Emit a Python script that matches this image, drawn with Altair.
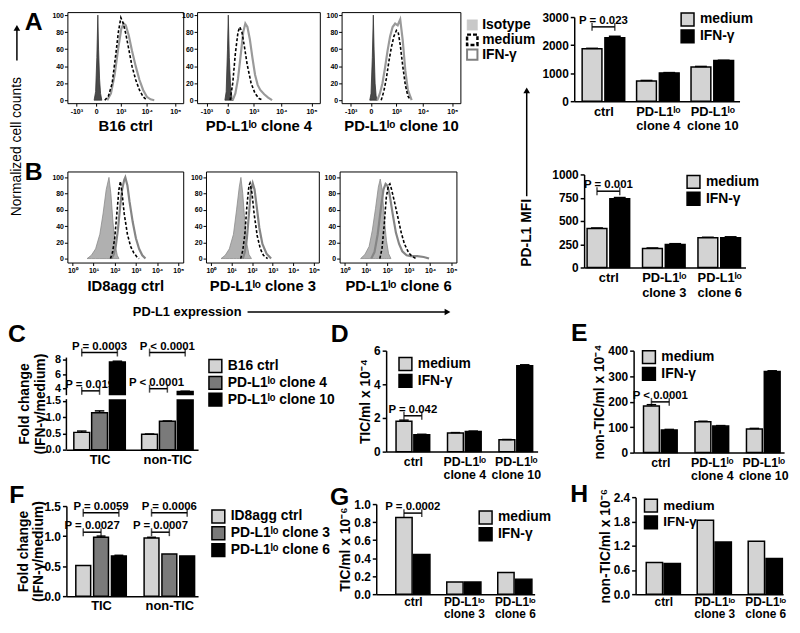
import altair as alt
import pandas as pd

FONT = "Liberation Sans"
OX, OY = 8, 8          # page margin
W, H = 792, 617        # drawing area

# ======================= DATA =======================
# ---- A: flow histograms (x in display units, ticks -10^3, 0, 10^3, 10^4, 10^5)
A_TICKS = [-1.0, -0.2, 0.8, 1.85, 3.0]
A_TICK_LABELS = ["-10³", "0", "10³", "10⁴", "10⁵"]
A_NAMES = ["B16 ctrl", "PD-L1ˡᵒ clone 4", "PD-L1ˡᵒ clone 10"]

A1_ISO_X = [-0.28, -0.22, -0.17, -0.13, -0.10, -0.06, -0.02, 0.03]
A1_ISO_Y = [0, 10, 50, 100, 60, 25, 8, 0]
A1_MED_X = [0.15, 0.3, 0.45, 0.6, 0.7, 0.8, 0.9, 1.0, 1.12, 1.25, 1.4, 1.55, 1.7, 1.85]
A1_MED_Y = [0, 5, 20, 55, 80, 97, 90, 78, 60, 40, 24, 12, 4, 0]
A1_IFN_X = [0.25, 0.4, 0.55, 0.7, 0.82, 0.92, 1.0, 1.12, 1.25, 1.4, 1.55, 1.7, 1.85, 2.0, 2.15]
A1_IFN_Y = [0, 8, 30, 62, 84, 90, 88, 76, 58, 40, 24, 12, 4, 1, 0]

A2_ISO_X = [-0.3, -0.25, -0.2, -0.17, -0.13, -0.08, -0.03, 0.02]
A2_ISO_Y = [0, 10, 60, 100, 50, 15, 3, 0]
A2_MED_X = [-0.1, 0.0, 0.1, 0.2, 0.27, 0.35, 0.45, 0.55, 0.7, 0.85, 1.0, 1.15]
A2_MED_Y = [0, 20, 55, 80, 86, 80, 62, 42, 20, 8, 2, 0]
A2_IFN_X = [0.0, 0.1, 0.2, 0.3, 0.4, 0.48, 0.56, 0.65, 0.75, 0.85, 0.95, 1.05, 1.2, 1.35, 1.5]
A2_IFN_Y = [0, 8, 25, 52, 80, 90, 86, 72, 50, 30, 18, 12, 7, 3, 0]

A3_ISO_X = [-0.25, -0.2, -0.15, -0.11, -0.08, -0.04, 0.0, 0.05]
A3_ISO_Y = [0, 8, 50, 100, 60, 20, 5, 0]
A3_MED_X = [0.2, 0.3, 0.4, 0.5, 0.6, 0.7, 0.8, 0.87, 0.95, 1.05, 1.15, 1.25, 1.35]
A3_MED_Y = [0, 10, 25, 45, 62, 75, 82, 80, 65, 40, 18, 5, 0]
A3_IFN_X = [0.05, 0.15, 0.25, 0.35, 0.45, 0.55, 0.65, 0.75, 0.85, 0.95, 1.05, 1.15, 1.25, 1.4]
A3_IFN_Y = [0, 8, 20, 38, 58, 75, 86, 90, 88, 95, 70, 35, 12, 0]

# ---- B: flow histograms (x in decades, 10^0 .. 10^5)
B_TICKS = [0, 1, 2, 3, 4, 5]
B_TICK_LABELS = ["10⁰", "10¹", "10²", "10³", "10⁴", "10⁵"]
B_NAMES = ["ID8agg ctrl", "PD-L1ˡᵒ clone 3", "PD-L1ˡᵒ clone 6"]

B1_ISO_X = [0.7, 0.9, 1.1, 1.3, 1.45, 1.6, 1.73, 1.82, 1.92, 2.02, 2.12, 2.2]
B1_ISO_Y = [0, 4, 12, 30, 55, 85, 100, 80, 45, 18, 4, 0]
B1_MED_X = [1.8, 1.9, 2.0, 2.1, 2.2, 2.27, 2.35, 2.45, 2.6, 2.75, 2.9, 3.05, 3.15]
B1_MED_Y = [0, 8, 25, 55, 85, 95, 80, 55, 30, 15, 7, 2, 0]
B1_IFN_X = [1.85, 1.95, 2.05, 2.15, 2.25, 2.35, 2.45, 2.5, 2.6, 2.7, 2.85, 3.0, 3.15, 3.3, 3.45]
B1_IFN_Y = [0, 5, 15, 35, 62, 85, 97, 100, 90, 70, 45, 25, 12, 4, 0]

B2_ISO_X = [0.5, 0.7, 0.9, 1.1, 1.25, 1.38, 1.46, 1.55, 1.65, 1.75, 1.85, 1.97]
B2_ISO_Y = [0, 4, 12, 30, 60, 88, 100, 80, 45, 18, 5, 0]
B2_MED_X = [1.45, 1.55, 1.65, 1.75, 1.85, 1.9, 2.0, 2.1, 2.25, 2.4, 2.55, 2.75]
B2_MED_Y = [0, 10, 30, 65, 90, 93, 80, 55, 28, 12, 4, 0]
B2_IFN_X = [1.55, 1.65, 1.75, 1.85, 1.95, 2.03, 2.12, 2.22, 2.35, 2.5, 2.7, 2.92]
B2_IFN_Y = [0, 8, 25, 55, 85, 93, 85, 65, 38, 18, 6, 0]

B3_ISO_X = [0.75, 0.95, 1.15, 1.3, 1.45, 1.58, 1.67, 1.76, 1.86, 1.96, 2.06, 2.17]
B3_ISO_Y = [0, 5, 15, 35, 62, 88, 98, 85, 50, 22, 6, 0]
B3_MED_X = [1.65, 1.75, 1.85, 1.95, 2.05, 2.12, 2.2, 2.35, 2.5, 2.65, 2.8, 3.0, 3.15, 3.33]
B3_MED_Y = [0, 12, 40, 75, 90, 92, 85, 68, 50, 32, 18, 7, 3, 0]
B3_IFN_X = [1.25, 1.4, 1.55, 1.7, 1.82, 1.92, 2.0, 2.1, 2.25, 2.4, 2.55, 2.7, 2.9, 3.1, 3.4, 3.7, 3.95]
B3_IFN_Y = [0, 8, 30, 62, 85, 92, 90, 80, 55, 32, 18, 9, 4, 3, 3, 2, 0]

HIST_LEGEND = ["Isotype", "medium", "IFN-γ"]

# ---- bar panels
TREAT = ["medium", "IFN-γ"]
B16_GROUPS = ["ctrl", "PD-L1ˡᵒ|clone 4", "PD-L1ˡᵒ|clone 10"]
ID8_GROUPS = ["ctrl", "PD-L1ˡᵒ|clone 3", "PD-L1ˡᵒ|clone 6"]
CELL_GROUPS = ["TIC", "non-TIC"]
C_SERIES = ["B16 ctrl", "PD-L1ˡᵒ clone 4", "PD-L1ˡᵒ clone 10"]
F_SERIES = ["ID8agg ctrl", "PD-L1ˡᵒ clone 3", "PD-L1ˡᵒ clone 6"]

AMFI_MEDIUM = [1870, 720, 1220]
AMFI_IFN = [2260, 1010, 1450]
AMFI_MEDIUM_ERR = [15, 20, 20]
AMFI_IFN_ERR = [55, 10, 10]

BMFI_MEDIUM = [420, 205, 320]
BMFI_IFN = [740, 248, 320]
BMFI_MEDIUM_ERR = [5, 5, 5]
BMFI_IFN_ERR = [12, 8, 10]

C_B16 = [0.53, 0.47]
C_CL4 = [1.13, 0.87]
C_CL10 = [7.7, 3.6]
C_B16_ERR = [0.04, 0.01]
C_CL4_ERR = [0.06, 0.01]
C_CL10_ERR = [0.1, 0.05]

D_MEDIUM = [1.8, 1.1, 0.7]
D_IFN = [1.0, 1.2, 5.1]
D_MEDIUM_ERR = [0.07, 0.03, 0.02]
D_IFN_ERR = [0.03, 0.02, 0.06]

E_MEDIUM = [183, 121, 93]
E_IFN = [89, 104, 318]
E_MEDIUM_ERR = [5, 2, 2]
E_IFN_ERR = [2, 2, 3]

F_ID8 = [0.51, 0.97]
F_CL3 = [0.98, 0.70]
F_CL6 = [0.67, 0.67]
F_ID8_ERR = [0.0, 0.01]
F_CL3_ERR = [0.02, 0.0]
F_CL6_ERR = [0.01, 0.0]

G_MEDIUM = [0.85, 0.135, 0.24]
G_IFN = [0.44, 0.135, 0.167]
G_ERR = [0.0, 0.0, 0.0]

H_MEDIUM = [0.785, 1.83, 1.31]
H_IFN = [0.76, 1.29, 0.885]
H_ERR = [0.0, 0.0, 0.0]

LETTERS = ["A", "B", "C", "D", "E", "F", "G", "H"]


# ======================= HELPERS =======================
def off_left(xpx):
    return -(xpx - OX)


def off_bottom(ypx):
    return (ypx - OY) - H


def off_top(ypx):
    return -(ypx - OY)


def off_right(xpx):
    return (xpx - OX) - W


def one(text):
    return pd.DataFrame({"t": [text]})


def hist_children(lay, ticks, tick_labels, name, iso, med, ifn, iso_fill, iso_stroke, ifn_color):
    xa, xb, yt, yb, xdom, ydom = lay
    xs = alt.Scale(domain=xdom, range=[xa - OX, xb - OX], nice=False, zero=False)
    ys = alt.Scale(domain=ydom, range=[yb - OY, yt - OY], nice=False, zero=False)
    vals = ",".join(repr(float(t)) for t in ticks)
    labs = ",".join("'" + l + "'" for l in tick_labels)
    lexpr = f"[{labs}][indexof([{vals}], datum.value)]"
    d_iso = pd.DataFrame({"x": iso[0], "y": iso[1], "b": [0] * len(iso[0])})
    d_med = pd.DataFrame({"x": med[0], "y": med[1]})
    d_ifn = pd.DataFrame({"x": ifn[0], "y": ifn[1]})
    c_iso = alt.Chart(d_iso).mark_area(fill=iso_fill, stroke=iso_stroke, strokeWidth=0.8).encode(
        x=alt.X("x:Q", scale=xs, axis=alt.Axis(
            orient="bottom", offset=off_bottom(yb), values=[float(t) for t in ticks], labelExpr=lexpr,
            labelFontSize=7, tickSize=3, labelPadding=1, domainWidth=1, tickWidth=1,
            title=name, titleFontSize=15, titlePadding=5)),
        y=alt.Y("y:Q", scale=ys, axis=alt.Axis(
            orient="left", offset=off_left(xa), values=[0, 20, 40, 60, 80, 100],
            labelFontSize=7, tickSize=3, labelPadding=1, domainWidth=1, tickWidth=1, title=None)),
        y2=alt.Y2("b"))
    c_ifn = alt.Chart(d_ifn).mark_line(color=ifn_color, strokeWidth=2.2).encode(
        x=alt.X("x:Q", scale=xs, axis=None), y=alt.Y("y:Q", scale=ys, axis=None))
    c_med = alt.Chart(d_med).mark_line(color="black", strokeWidth=1.6, strokeDash=[3, 2]).encode(
        x=alt.X("x:Q", scale=xs, axis=alt.Axis(orient="top", offset=off_top(yt), labels=False,
                                                ticks=False, title=None, domainWidth=1)),
        y=alt.Y("y:Q", scale=ys, axis=alt.Axis(orient="right", offset=off_right(xb), labels=False,
                                                ticks=False, title=None, domainWidth=1)))
    return [c_iso, c_ifn, c_med]


def bar_children(sp):
    gap, c0 = sp["gap"], sp["c0"]
    dom = [(sp["xa"] - c0) / gap, (sp["xb"] - c0) / gap]
    xs = alt.Scale(domain=dom, range=[sp["xa"] - OX, sp["xb"] - OX], nice=False, zero=False)
    ys = alt.Scale(domain=sp["ydom"], range=[v - OY for v in sp["yrng"]], nice=False, zero=False)
    hw = sp["bw"] / 2 / gap
    rows = []
    for si, s in enumerate(sp["series"]):
        for gi in range(len(sp["groups"])):
            c = gi + sp["offs"][si] / gap
            v = sp["values"][si][gi]
            e = sp["errs"][si][gi]
            rows.append(dict(series=s, xc=c, x0=c - hw, x1=c + hw, cl=c - hw * 0.6,
                             cr=c + hw * 0.6, v=v, top=v + e, b=0))
    df = pd.DataFrame(rows)
    glabs = ",".join("'" + g + "'" for g in sp["groups"])
    xaxis = alt.Axis(orient="bottom", offset=off_bottom(sp["yrng"][0]),
                     values=list(range(len(sp["groups"]))),
                     labelExpr=f"split([{glabs}][round(datum.value)], '|')",
                     ticks=False, labelFontSize=sp.get("xfs", 13), labelPadding=sp.get("xpad", 4),
                     labelLineHeight=sp.get("lh", 14),
                     domainWidth=1.5, title=None, labelBound=False, labelOverlap=False)
    yk = dict(orient="left", offset=off_left(sp["xa"]), values=sp["yticks"], tickSize=4,
              tickWidth=1.5, domainWidth=1.5, labelFontSize=sp.get("yfs", 12), labelPadding=2,
              title=sp["ytitle"], titleFontSize=14, titlePadding=sp.get("tpad", 1),
              labelOverlap=False, domain=sp.get("ydomain_line", True))
    if "ylabels" in sp:
        vals = ",".join(repr(float(t)) for t in sp["yticks"])
        labs = ",".join("'" + l + "'" for l in sp["ylabels"])
        yk["labelExpr"] = f"[{labs}][indexof([{vals}], datum.value)]"
    else:
        yk["format"] = sp["yfmt"]
    lx, ly = sp["legend"]
    leg = alt.Legend(orient="none", legendX=lx - OX, legendY=ly - OY, title=None,
                     symbolType="square", symbolSize=169, symbolStrokeColor="black",
                     symbolStrokeWidth=1.5, symbolOpacity=1, labelFontSize=sp.get("lfs", 14),
                     labelFont=FONT, labelFontWeight="bold", labelColor="black",
                     rowPadding=sp.get("rowpad", -4), padding=0, labelOffset=5, labelLimit=400)
    out = []
    bars = alt.Chart(df).mark_bar(stroke="black", strokeWidth=1.5, opacity=1).encode(
        x=alt.X("x0:Q", scale=xs, axis=xaxis),
        x2=alt.X2("x1"),
        y=alt.Y("v:Q", scale=ys, axis=alt.Axis(**yk)),
        y2=alt.Y2("b"),
        color=alt.Color("series:N", scale=alt.Scale(domain=sp["series"], range=sp["colors"]),
                        legend=leg))
    out.append(bars)
    out.append(alt.Chart(df).mark_rule(color="black", strokeWidth=1.5).encode(
        x=alt.X("xc:Q", scale=xs, axis=None), y=alt.Y("v:Q", scale=ys, axis=None), y2=alt.Y2("top")))
    out.append(alt.Chart(df[df["top"] > df["v"]]).mark_rule(color="black", strokeWidth=1.5).encode(
        x=alt.X("cl:Q", scale=xs, axis=None), x2=alt.X2("cr"), y=alt.Y("top:Q", scale=ys, axis=None)))
    if "brk" in sp:
        lo, hi = sp["brk"]
        bdf = pd.DataFrame({"x0": [dom[0] + 0.02], "x1": [dom[1]], "y0": [lo], "y1": [hi]})
        out.append(alt.Chart(bdf).mark_rect(fill="white").encode(
            x=alt.X("x0:Q", scale=xs, axis=None), x2=alt.X2("x1"),
            y=alt.Y("y0:Q", scale=ys, axis=None), y2=alt.Y2("y1")))
        sdf = pd.DataFrame({"x": [dom[0], dom[0]], "y0": [sp["ydom"][0], hi],
                            "y1": [lo, sp["ydom"][-1]]})
        out.append(alt.Chart(sdf).mark_rule(color="black", strokeWidth=1.5).encode(
            x=alt.X("x:Q", scale=xs, axis=None), y=alt.Y("y0:Q", scale=ys, axis=None), y2=alt.Y2("y1")))
    if sp["pvals"]:
        prow, erow = [], []
        for pv in sp["pvals"]:
            g, s1, s2, lvl, txt_ = pv[:5]
            shift = pv[5] if len(pv) > 5 else 0
            a = g + sp["offs"][s1] / gap
            b = g + sp["offs"][s2] / gap
            prow.append(dict(a=a, b=b, m=(a + b) / 2 + shift / gap, lvl=lvl, txt=txt_))
            erow += [dict(x=a, lvl=lvl), dict(x=b, lvl=lvl)]
        pdf = pd.DataFrame(prow)
        edf = pd.DataFrame(erow)
        out.append(alt.Chart(pdf).mark_rule(color="black", strokeWidth=1.5).encode(
            x=alt.X("a:Q", scale=xs, axis=None), x2=alt.X2("b"), y=alt.Y("lvl:Q", scale=ys, axis=None)))
        out.append(alt.Chart(edf).mark_tick(color="black", thickness=1.5, size=8, orient="vertical").encode(
            x=alt.X("x:Q", scale=xs, axis=None), y=alt.Y("lvl:Q", scale=ys, axis=None)))
        out.append(alt.Chart(pdf).mark_text(font=FONT, fontWeight="bold", fontSize=11.5, baseline="bottom",
                                            dy=-1, color="black").encode(
            x=alt.X("m:Q", scale=xs, axis=None), y=alt.Y("lvl:Q", scale=ys, axis=None), text="txt:N"))
    return out


def txt(text, x, y, size=13, weight="bold", angle=0, align="center", baseline="middle"):
    return alt.Chart(one(text)).mark_text(font=FONT, fontSize=size, fontWeight=weight, angle=angle,
                                          align=align, baseline=baseline, color="black").encode(
        text="t:N", x=alt.value(x - OX), y=alt.value(y - OY))


def rule(x1, y1, x2, y2, w=1.5):
    return alt.Chart(one("r")).mark_rule(color="black", strokeWidth=w).encode(
        x=alt.value(x1 - OX), x2=alt.value(x2 - OX), y=alt.value(y1 - OY), y2=alt.value(y2 - OY))


def head(x, y, shape):
    return alt.Chart(one("h")).mark_point(shape=shape, filled=True, size=45, color="black",
                                          opacity=1).encode(x=alt.value(x - OX), y=alt.value(y - OY))


def square(x, y, fill, stroke, dash=None, sw=1.5):
    kw = dict(shape="square", filled=False, size=110, fill=fill, stroke=stroke, strokeWidth=sw, opacity=1)
    if dash:
        kw["strokeDash"] = dash
    return alt.Chart(one("s")).mark_point(**kw).encode(x=alt.value(x - OX), y=alt.value(y - OY))


# ======================= BUILD =======================
children = []

A_Y = [-3.5, 103.5]
A_X = [-1.36, 3.32]
B_Y = [-4.9, 107.3]
B_X = [-0.23, 5.23]
A_LAY = [(68, 185, 9, 101, A_X, A_Y), (199, 323, 9, 101, A_X, A_Y), (345, 465, 9, 101, A_X, A_Y)]
B_LAY = [(68, 185, 170, 262, B_X, B_Y), (208, 322, 170, 262, B_X, B_Y), (343, 461, 170, 262, B_X, B_Y)]
A_CURVES = [((A1_ISO_X, A1_ISO_Y), (A1_MED_X, A1_MED_Y), (A1_IFN_X, A1_IFN_Y)),
            ((A2_ISO_X, A2_ISO_Y), (A2_MED_X, A2_MED_Y), (A2_IFN_X, A2_IFN_Y)),
            ((A3_ISO_X, A3_ISO_Y), (A3_MED_X, A3_MED_Y), (A3_IFN_X, A3_IFN_Y))]
B_CURVES = [((B1_ISO_X, B1_ISO_Y), (B1_MED_X, B1_MED_Y), (B1_IFN_X, B1_IFN_Y)),
            ((B2_ISO_X, B2_ISO_Y), (B2_MED_X, B2_MED_Y), (B2_IFN_X, B2_IFN_Y)),
            ((B3_ISO_X, B3_ISO_Y), (B3_MED_X, B3_MED_Y), (B3_IFN_X, B3_IFN_Y))]
for i in range(3):
    iso, med, ifn = A_CURVES[i]
    children += hist_children(A_LAY[i], A_TICKS, A_TICK_LABELS, A_NAMES[i], iso, med, ifn,
                              "#4a4a4a", "#333333", "#9a9a9a")
for i in range(3):
    iso, med, ifn = B_CURVES[i]
    children += hist_children(B_LAY[i], B_TICKS, B_TICK_LABELS, B_NAMES[i], iso, med, ifn,
                              "#b0b0b0", "#8a8a8a", "#858585")

GRAY2 = ["#d3d3d3", "#000000"]
GRAY3 = ["#d3d3d3", "#7a7a7a", "#000000"]

specs = [
    dict(groups=B16_GROUPS, series=TREAT, colors=GRAY2, values=[AMFI_MEDIUM, AMFI_IFN],
         errs=[AMFI_MEDIUM_ERR, AMFI_IFN_ERR], xa=580, xb=747, c0=609.5, gap=55, offs=[-11.5, 11.5],
         bw=20, ydom=[0, 3000], yrng=[99, 14], yticks=[0, 1000, 2000, 3000], yfmt="d", ytitle=None,
         legend=(687, 9), lh=15, xpad=4, pvals=[(0, 0, 1, 2650, "P = 0.023")]),
    dict(groups=ID8_GROUPS, series=TREAT, colors=GRAY2, values=[BMFI_MEDIUM, BMFI_IFN],
         errs=[BMFI_MEDIUM_ERR, BMFI_IFN_ERR], xa=590, xb=753, c0=614.5, gap=56, offs=[-11.5, 11.5],
         bw=20, ydom=[0, 1000], yrng=[267, 173], yticks=[0, 250, 500, 750, 1000], yfmt="d", ytitle=None,
         legend=(693, 173), lh=15, xpad=4, pvals=[(0, 0, 1, 820, "P = 0.001")]),
    dict(groups=CELL_GROUPS, series=C_SERIES, colors=GRAY3, values=[C_B16, C_CL4, C_CL10],
         errs=[C_B16_ERR, C_CL4_ERR, C_CL10_ERR], xa=67, xb=200, c0=100.5, gap=68.5, offs=[-18, 0, 18],
         bw=16, ydom=[0, 1.55, 3.1, 8.3], yrng=[451, 400, 396, 358], yticks=[0, 0.5, 1.0, 1.5, 4, 6, 8],
         ylabels=["0.0", "0.5", "1.0", "1.5", "4", "6", "8"], ytitle=["Fold change", "(IFN-γ/medium)"],
         ydomain_line=False, brk=(1.55, 3.1), tpad=-2, yfs=11,
         legend=(210, 359), rowpad=-3,
         pvals=[(0, 0, 2, 9.0, "P = 0.0003"), (0, 0, 1, 3.7, "P = 0.019", -1),
                (1, 0, 2, 9.0, "P < 0.0001"), (1, 0, 1, 4.0, "P < 0.0001", -2)]),
    dict(groups=B16_GROUPS, series=TREAT, colors=GRAY2, values=[D_MEDIUM, D_IFN],
         errs=[D_MEDIUM_ERR, D_IFN_ERR], xa=390, xb=543, c0=417, gap=52, offs=[-9, 9],
         bw=16, ydom=[0, 6], yrng=[453, 351], yticks=[0, 2, 4, 6], yfmt="d", ytitle="TIC/ml x 10⁻⁴",
         legend=(402, 357), lh=13, xfs=12.5, xpad=4, tpad=1, pvals=[(0, 0, 1, 2.13, "P = 0.042")]),
    dict(groups=B16_GROUPS, series=TREAT, colors=GRAY2, values=[E_MEDIUM, E_IFN],
         errs=[E_MEDIUM_ERR, E_IFN_ERR], xa=640, xb=792, c0=667, gap=52, offs=[-9, 9],
         bw=16, ydom=[0, 400], yrng=[454, 351], yticks=[0, 100, 200, 300, 400], yfmt="d",
         ytitle="non-TIC/ml x 10⁻⁴", legend=(648, 350), lh=13, xfs=12.5, xpad=4, tpad=1,
         pvals=[(0, 0, 1, 199, "P < 0.0001")]),
    dict(groups=CELL_GROUPS, series=F_SERIES, colors=GRAY3, values=[F_ID8, F_CL3, F_CL6],
         errs=[F_ID8_ERR, F_CL3_ERR, F_CL6_ERR], xa=67, xb=200, c0=102, gap=69, offs=[-18, 0, 18],
         bw=15, ydom=[0, 1.5], yrng=[599, 508], yticks=[0, 0.5, 1.0, 1.5], yfmt=".1f",
         ytitle=["Fold  change", "(IFN-γ/medium)"], tpad=-2, legend=(213, 511), rowpad=-3,
         xpad=3, pvals=[(0, 0, 2, 1.39, "P = 0.0059"), (0, 0, 1, 1.065, "P = 0.0027"),
                        (1, 0, 2, 1.39, "P = 0.0006"), (1, 0, 1, 1.065, "P = 0.0007")]),
    dict(groups=ID8_GROUPS, series=TREAT, colors=GRAY2, values=[G_MEDIUM, G_IFN],
         errs=[G_ERR, G_ERR], xa=380, xb=540, c0=417, gap=51.5, offs=[-9, 9],
         bw=16.5, ydom=[0, 1.0], yrng=[597, 506], yticks=[0, 0.2, 0.4, 0.6, 0.8, 1.0], yfmt=".1f",
         ytitle="TIC/ml x 10⁻⁶", tpad=1, legend=(483, 512), lh=13, xfs=12, xpad=2,
         pvals=[(0, 0, 1, 0.9, "P = 0.0002")]),
    dict(groups=ID8_GROUPS, series=TREAT, colors=GRAY2, values=[H_MEDIUM, H_IFN],
         errs=[H_ERR, H_ERR], xa=642, xb=791, c0=670, gap=51.5, offs=[-9, 9],
         bw=16.5, ydom=[0, 2.4], yrng=[597, 499], yticks=[0, 0.6, 1.2, 1.8, 2.4], yfmt=".1f",
         ytitle="non-TIC/ml x 10⁻⁶", tpad=1, legend=(650, 500), lfs=13.5, lh=13, xfs=12, xpad=2,
         pvals=[]),
]
for sp in specs:
    children += bar_children(sp)

# histogram legend (Isotype / medium / IFN-γ)
children.append(square(477, 22, "#c8c8c8", "#c8c8c8", sw=0.5))
children.append(square(477, 37, "white", "black", dash=[4, 2], sw=2.5))
children.append(square(477, 52, "white", "#808080", sw=2))
for lab, yy in zip(HIST_LEGEND, [22, 37, 52]):
    children.append(txt(lab, 487, yy, size=14, align="left"))

# panel letters
for lab, (lx, ly) in zip(LETTERS, [(34, 19), (34, 171), (17, 334), (343, 334), (585, 333),
                                   (17, 497), (343, 499), (585, 496)]):
    children.append(txt(lab, lx, ly, size=25))

# shared annotations
children.append(txt("Normalized cell counts", 17, 145, size=14, weight="normal", angle=270))
children.append(rule(17, 58, 17, 26))
children.append(head(17, 25, "triangle-up"))
children.append(txt("PD-L1 expression", 189, 312, size=13))
children.append(rule(250, 312, 450, 312))
children.append(head(452, 312, "triangle-right"))
children.append(txt("PD-L1 MFI", 532, 232, size=14, angle=270))
children.append(rule(532, 195, 532, 90))
children.append(head(532, 88, "triangle-up"))

chart = alt.layer(*children).resolve_scale(
    x="independent", y="independent", color="independent"
).resolve_axis(
    x="independent", y="independent"
).resolve_legend(
    color="independent"
).properties(
    width=W, height=H, padding=0, autosize=alt.AutoSizeParams(type="none")
).configure_view(
    stroke=None
).configure_axis(
    grid=False, labelFont=FONT, titleFont=FONT, labelColor="black", titleColor="black",
    domainColor="black", tickColor="black", labelFontWeight="bold", titleFontWeight="bold"
).configure_legend(
    labelFont=FONT
)

chart.save("out.html", embed_options={"renderer": "svg", "actions": False})
